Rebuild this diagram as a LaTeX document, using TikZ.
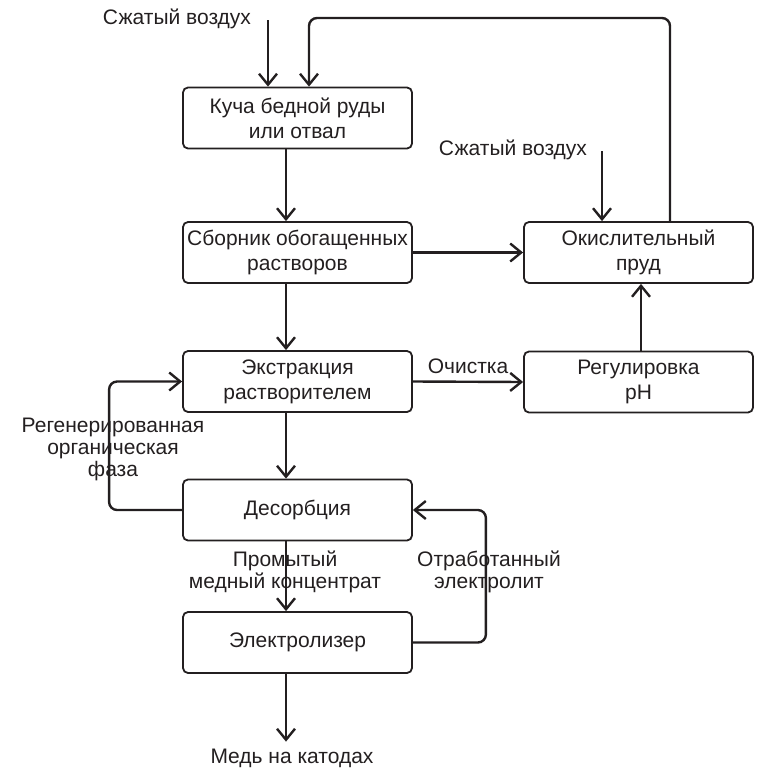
\documentclass[tikz,border=0pt]{standalone}
\usepackage{fontspec}
\setmainfont{Liberation Sans}
\usetikzlibrary{arrows.meta}
\definecolor{ink}{HTML}{231F20}
\tikzset{>={Straight Barb[length=5.5pt,width=9pt]},line width=.8pt,
  every node/.style={font=\fontsize{10.5}{12.5}\selectfont,text=ink},
  box/.style={draw=ink,line width=.9pt,rounded corners=2.5pt,minimum width=114.5pt,
    minimum height=30.5pt,align=center,inner sep=1pt},
  flow/.style={->,draw=ink,line width=1.2pt},
  backflow/.style={flow,rounded corners=4pt},
  note/.style={align=center,font=\fontsize{10.5}{11}\selectfont}}

\begin{document}
\begin{tikzpicture}[x=.5pt,y=-.5pt]
\useasboundingbox(0,0)rectangle(756,771);
% boxes
\node[box](heap)at(297.5,118){Куча бедной руды\\или отвал};
\node[box](collect)at(297.5,252.5){Сборник обогащенных\\растворов};
\node[box](extract)at(297.5,381.5){Экстракция\\растворителем};
\node[box](desorb)at(297.5,510){Десорбция};
\node[box](electro)at(297.5,642.5){Электролизер};
\node[box](pond)at(638.5,252.5){Окислительный\\пруд};
\node[box](ph)at(638.5,382){Регулировка\\pH};
\coordinate(mainline)at(286,0);
% air inlets
\node[anchor=base east](air1)at(258,25){Сжатый воздух};
\coordinate(air1end)at(268,20);
\draw[flow](air1end)--(air1end|-heap.north);
\node[anchor=base east](air2)at(594,155){Сжатый воздух};
\coordinate(air2end)at(602,151);
\draw[flow](air2end)--(air2end|-pond.north);
% main line
\draw[flow](heap.south-|mainline)--(collect.north-|mainline);
\draw[flow](collect.south-|mainline)--(extract.north-|mainline);
\draw[flow](extract.south-|mainline)--(desorb.north-|mainline);
\draw[flow](desorb.south-|mainline)--(electro.north-|mainline);
\node(copper)at(292,758){Медь на катодах};
\draw[flow](electro.south-|mainline)--(copper.north-|mainline);
% side branches
\draw[flow](collect)--(pond);
\draw[flow](extract.east)--(ph.west)node[midway,above](clean){Очистка};
\draw[flow](ph.north-|641,0)--(pond.south-|641,0);
\draw[backflow](pond.north-|670,0)|-(309,18)--(309,18|-heap.north);
\draw[backflow](desorb.west)--++(-73,0)|-(extract.west);
\draw[backflow](electro.east)--++(73,0)|-(desorb.east);
\node[note](regen)at(113,449){Регенерированная\\органическая\\фаза};
\node[note](washed)at(285,572){Промытый\\медный концентрат};
\node[note](spent)at(489,572){Отработанный\\электролит};
\end{tikzpicture}
\end{document}
